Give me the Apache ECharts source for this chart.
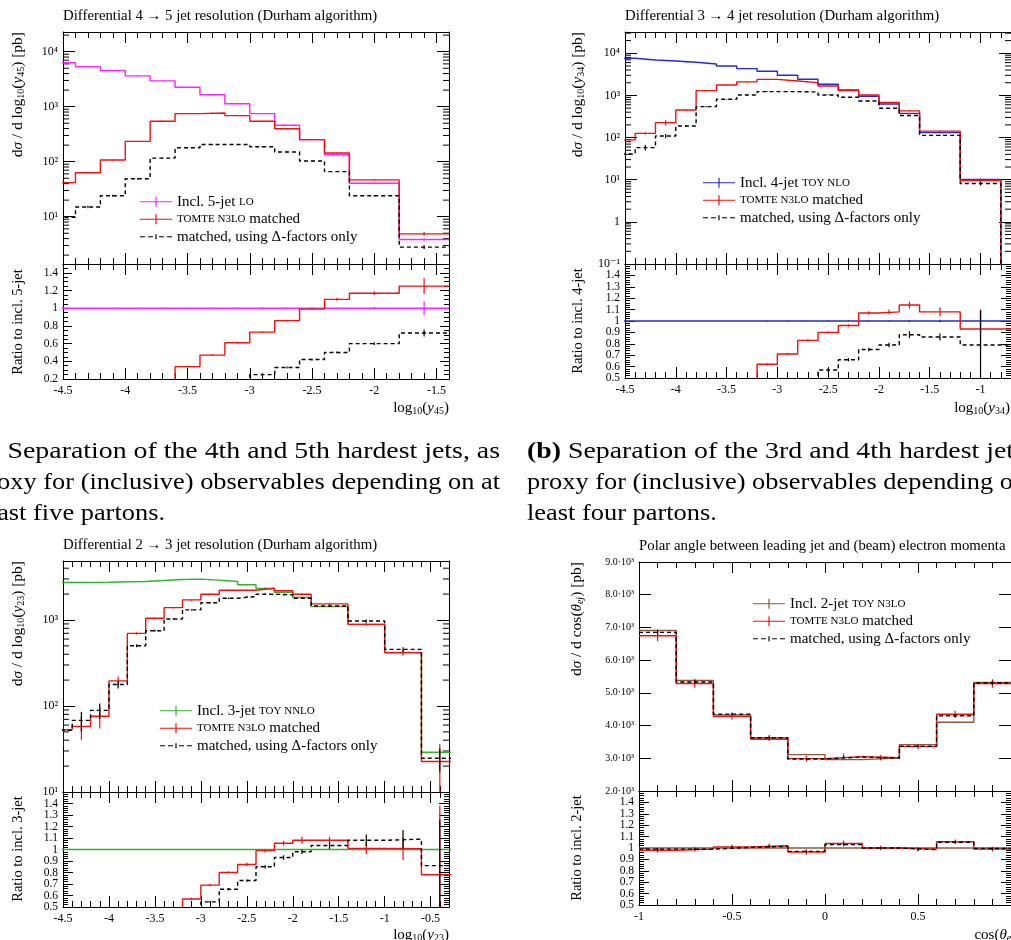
<!DOCTYPE html>
<html>
<head>
<meta charset="utf-8">
<title>Jet resolutions and polar angle, TOMTE matched vs inclusive</title>
<script src="https://cdn.jsdelivr.net/npm/echarts@6/dist/echarts.min.js"></script>
<style>
  html, body { margin: 0; padding: 0; background: #fff; }
  #main { width: 1011px; height: 940px; }
</style>
</head>
<body>
<div id="main"></div>
<script>
// ---------- (a) differential 4 -> 5 jet resolution ----------
const edgesA = [-4.6, -4.4, -4.2, -4.0, -3.8, -3.6, -3.4, -3.2, -3.0, -2.8, -2.6, -2.4, -2.2, -1.8, -1.4];
const inclA = [6300, 5350, 4540, 3630, 2950, 2260, 1650, 1130, 747, 460, 252, 134, 40.5, 3.84];
const tomteA = [41.7, 63, 107, 234, 543, 747, 769, 688, 543, 398, 252, 144, 46.7, 4.87];
const deltaA = [9.7, 15, 24, 49, 116, 179, 206, 206, 187, 150, 103, 66, 24, 2.8];
const errInclA = [0.02, 0.02, 0.02, 0.02, 0.02, 0.02, 0.02, 0.02, 0.02, 0.02, 0.02, 0.02, 0.03, 0.06];
const errTomteA = [0.03, 0.03, 0.03, 0.02, 0.02, 0.02, 0.02, 0.02, 0.02, 0.02, 0.02, 0.02, 0.03, 0.08];
const errDeltaA = [0.06, 0.05, 0.04, 0.03, 0.03, 0.02, 0.02, 0.02, 0.02, 0.02, 0.02, 0.02, 0.03, 0.08];
const rInclA = [1, 1, 1, 1, 1, 1, 1, 1, 1, 1, 1, 1, 1, 1];
const rTomteA = [0.007, 0.012, 0.024, 0.064, 0.18, 0.34, 0.47, 0.61, 0.73, 0.86, 0.99, 1.10, 1.17, 1.25];
const rDeltaA = [0.002, 0.003, 0.005, 0.013, 0.04, 0.08, 0.125, 0.18, 0.25, 0.33, 0.42, 0.50, 0.60, 0.72];
const rErrInclA = [0.005, 0.005, 0.005, 0.005, 0.005, 0.005, 0.005, 0.01, 0.01, 0.01, 0.01, 0.01, 0.015, 0.08];
const rErrTomteA = [0, 0, 0, 0, 0, 0.01, 0.01, 0.01, 0.01, 0.01, 0.01, 0.015, 0.02, 0.09];
const rErrDeltaA = [0, 0, 0, 0, 0, 0, 0, 0, 0.01, 0.01, 0.01, 0.01, 0.015, 0.04];

// ---------- (b) differential 3 -> 4 jet resolution ----------
const edgesB = [-4.6, -4.4, -4.2, -4.0, -3.8, -3.6, -3.4, -3.2, -3.0, -2.8, -2.6, -2.4, -2.2, -2.0, -1.8, -1.6, -1.2, -0.8, -0.4];
const inclB = [7610, 6950, 6580, 6110, 5580, 5000, 4330, 3740, 3010, 2420, 1840, 1350, 955, 627, 376, 131, 10.2, 0.01];
const tomteB = [88, 126, 226, 452, 1300, 1770, 2100, 2400, 2200, 2010, 1680, 1300, 1025, 677, 430, 142, 9.6, 0.009];
const deltaB = [40.8, 57.7, 109, 188, 542, 809, 1025, 1230, 1230, 1210, 1025, 903, 740, 495, 335, 113, 8.1, 0.008];
const errInclB = [0.01, 0.01, 0.01, 0.01, 0.01, 0.01, 0.01, 0.01, 0.01, 0.01, 0.01, 0.01, 0.01, 0.01, 0.02, 0.02, 0.05, 0];
const errTomteB = [0.05, 0.06, 0.14, 0.04, 0.03, 0.02, 0.02, 0.02, 0.02, 0.02, 0.02, 0.02, 0.02, 0.02, 0.03, 0.03, 0.09, 0];
const errDeltaB = [0.08, 0.15, 0.12, 0.05, 0.03, 0.02, 0.02, 0.02, 0.02, 0.02, 0.02, 0.02, 0.02, 0.02, 0.03, 0.03, 0.1, 0];
const rInclB = [1, 1, 1, 1, 1, 1, 1, 1, 1, 1, 1, 1, 1, 1, 1, 1, 1, 1];
const rTomteB = [0.012, 0.018, 0.034, 0.074, 0.23, 0.35, 0.48, 0.62, 0.71, 0.83, 0.90, 0.96, 1.07, 1.08, 1.14, 1.08, 0.93, 0.93];
const rDeltaB = [0.005, 0.008, 0.016, 0.03, 0.1, 0.16, 0.24, 0.3, 0.37, 0.45, 0.57, 0.66, 0.75, 0.79, 0.88, 0.86, 0.79, 0.79];
const rErrInclB = [0, 0, 0, 0, 0, 0, 0, 0.005, 0.005, 0.005, 0.005, 0.005, 0.005, 0.005, 0.01, 0.01, 0.1, 0];
const rErrTomteB = [0, 0, 0, 0, 0, 0, 0, 0.01, 0.01, 0.01, 0.01, 0.01, 0.015, 0.02, 0.03, 0.04, 0.17, 0];
const rErrDeltaB = [0, 0, 0, 0, 0, 0, 0, 0, 0, 0, 0.015, 0.015, 0.015, 0.02, 0.03, 0.03, 0.3, 0];

// ---------- (c) differential 2 -> 3 jet resolution ----------
const edgesC = [-4.6, -4.4, -4.2, -4.0, -3.8, -3.6, -3.4, -3.2, -3.0, -2.8, -2.6, -2.4, -2.2, -2.0, -1.8, -1.4, -1.0, -0.6, -0.2];
const inclC = [2730, 2730, 2750, 2780, 2800, 2875, 2955, 2985, 2905, 2800, 2565, 2325, 2105, 1825, 1430, 890, 420, 29];
const tomteC = [53, 58, 76, 196, 698, 1046, 1392, 1711, 1995, 2220, 2220, 2342, 2183, 1995, 1537, 890, 416, 22.6];
const deltaC = [52, 68, 89, 178, 502, 750, 1027, 1309, 1583, 1791, 1872, 1995, 1958, 1791, 1456, 973, 455, 24.7];
const errInclC = [0.01, 0.01, 0.01, 0.01, 0.01, 0.01, 0.01, 0.01, 0.01, 0.01, 0.01, 0.01, 0.01, 0.01, 0.01, 0.01, 0.02, 0.04];
const errTomteC = [0.35, 0.3, 0.28, 0.12, 0.03, 0.02, 0.02, 0.02, 0.02, 0.02, 0.02, 0.02, 0.02, 0.03, 0.03, 0.04, 0.08, 0.6];
const errDeltaC = [0.3, 0.25, 0.2, 0.1, 0.04, 0.03, 0.02, 0.02, 0.02, 0.02, 0.02, 0.02, 0.02, 0.02, 0.03, 0.04, 0.06, 0.3];
const rInclC = [1, 1, 1, 1, 1, 1, 1, 1, 1, 1, 1, 1, 1, 1, 1, 1, 1, 1];
const rTomteC = [0.019, 0.021, 0.027, 0.07, 0.24, 0.36, 0.47, 0.57, 0.69, 0.80, 0.87, 0.99, 1.055, 1.08, 1.08, 1.01, 1.006, 0.78];
const rDeltaC = [0.019, 0.024, 0.032, 0.064, 0.18, 0.26, 0.35, 0.44, 0.545, 0.655, 0.73, 0.85, 0.93, 0.98, 1.035, 1.08, 1.09, 0.86];
const rErrInclC = [0, 0, 0, 0, 0, 0, 0, 0, 0, 0, 0, 0, 0, 0, 0, 0, 0, 0];
const rErrTomteC = [0, 0, 0, 0, 0, 0, 0, 0.01, 0.01, 0.01, 0.015, 0.015, 0.02, 0.03, 0.03, 0.05, 0.1, 0.6];
const rErrDeltaC = [0, 0, 0, 0, 0, 0, 0, 0, 0.01, 0.01, 0.01, 0.015, 0.02, 0.02, 0.03, 0.05, 0.08, 0.4];

// ---------- (d) polar angle between leading jet and electron ----------
const edgesD = [-1, -0.8, -0.6, -0.4, -0.2, 0, 0.2, 0.4, 0.6, 0.8, 1];
const inclD = [6908, 5378, 4327, 3582, 3112, 2959, 3010, 3418, 4102, 5316];
const tomteD = [6745, 5286, 4286, 3622, 2990, 3051, 3020, 3357, 4347, 5286];
const deltaD = [6850, 5330, 4350, 3630, 2980, 3040, 3010, 3370, 4300, 5300];
const errInclD = [0.005, 0.005, 0.005, 0.005, 0.005, 0.005, 0.005, 0.005, 0.005, 0.005];
const errTomteD = [0.025, 0.025, 0.025, 0.025, 0.03, 0.03, 0.03, 0.025, 0.025, 0.025];
const errDeltaD = [0.01, 0.01, 0.01, 0.01, 0.01, 0.01, 0.01, 0.01, 0.01, 0.01];
const rInclD = [1, 1, 1, 1, 1, 1, 1, 1, 1, 1];
const rTomteD = [0.98, 0.99, 1.01, 1.02, 0.965, 1.04, 1.0, 0.99, 1.055, 0.99];
const rDeltaD = [0.99, 0.99, 1.005, 1.015, 0.97, 1.03, 1.0, 0.985, 1.05, 0.995];
const rErrInclD = [0, 0, 0, 0, 0, 0, 0, 0, 0, 0];
const rErrTomteD = [0.02, 0.02, 0.02, 0.02, 0.025, 0.025, 0.02, 0.02, 0.02, 0.02];
const rErrDeltaD = [0.01, 0.01, 0.01, 0.01, 0.01, 0.01, 0.01, 0.01, 0.01, 0.01];

const LABELS = {
  A1: 'Incl. 5-jet {sc|LO}', A2: '{sc|TOMTE N3LO} matched', A3: 'matched, using Δ-factors only',
  B1: 'Incl. 4-jet {sc|TOY NLO}', B2: '{sc|TOMTE N3LO} matched', B3: 'matched, using Δ-factors only',
  C1: 'Incl. 3-jet {sc|TOY NNLO}', C2: '{sc|TOMTE N3LO} matched', C3: 'matched, using Δ-factors only',
  D1: 'Incl. 2-jet {sc|TOY N3LO}', D2: '{sc|TOMTE N3LO} matched', D3: 'matched, using Δ-factors only'
};

const FONT = '"Liberation Serif", "DejaVu Serif", serif';
const RED = '#ee1111';
const BLACK = '#000000';
const MAGENTA = '#ff22ff';
const BLUE = '#2a2ac6';
const GREEN = '#33b033';
const BROWN = '#8a5a3c';

const grids = [];
const xAxes = [];
const yAxes = [];
const extraY = [];   // label-only axes, appended after the framed ones
const series = [];
const legends = [];
const graphics = [];

const SUP = { '-': '⁻', '0': '⁰', '1': '¹', '2': '²', '3': '³', '4': '⁴', '5': '⁵', '6': '⁶', '7': '⁷', '8': '⁸', '9': '⁹' };
function powLabel(v) {
  const l = Math.log10(v);
  const e = Math.round(l);
  if (Math.abs(l - e) > 1e-6) return '';
  if (e === 0) return '1';
  return '10' + String(e).split('').map(c => SUP[c]).join('');
}

function stepData(edges, vals) {
  const d = vals.map((v, i) => [edges[i], v]);
  d.push([edges[edges.length - 1], vals[vals.length - 1]]);
  return d;
}

function addGrid(rect, xs, ys, isRatio) {
  const g = grids.length;
  grids.push({ left: rect[0], top: rect[1], width: rect[2], height: rect[3] });
  const line = { show: true, onZero: false, lineStyle: { color: '#000', width: 1 } };
  ['bottom', 'top'].forEach((pos, k) => {
    xAxes.push({
      gridIndex: g, type: 'value', position: pos,
      min: xs.min, max: xs.max, interval: xs.interval,
      axisLine: line,
      axisTick: { inside: true, length: 11, lineStyle: { color: '#000' } },
      minorTick: { show: true, splitNumber: 5, length: 6, lineStyle: { color: '#000' } },
      splitLine: { show: false },
      axisLabel: { show: isRatio && k === 0, showMaxLabel: false, color: '#000', fontFamily: FONT, fontSize: 12, margin: 6 }
    });
  });
  const labelStyle = { color: '#000', fontFamily: FONT, fontSize: ys.fontSize || 12, margin: 5 };
  ['left', 'right'].forEach((pos, k) => {
    const ax = {
      gridIndex: g, type: ys.type, position: pos,
      min: ys.min, max: ys.max,
      axisLine: line,
      axisTick: { inside: true, length: ys.tick || 11, lineStyle: { color: '#000' } },
      minorTick: { show: !!ys.minor, splitNumber: ys.minor || 5, length: 5, lineStyle: { color: '#000' } },
      splitLine: { show: false },
      axisLabel: Object.assign({ show: k === 0, hideOverlap: false, showMaxLabel: !isRatio,
                                 showMinLabel: !ys.ownMin, formatter: ys.fmt }, labelStyle)
    };
    if (ys.type === 'log') ax.logBase = 10; else ax.interval = ys.interval;
    yAxes.push(ax);
  });
  if (ys.ownMin) {
    // the bottom label sits too close to its neighbour for the automatic check, give it its own axis
    extraY.push({
      gridIndex: g, type: 'value', position: 'left', min: ys.min, max: ys.max, interval: ys.interval,
      axisLine: { show: false }, axisTick: { show: false }, splitLine: { show: false },
      axisLabel: Object.assign({ showMinLabel: true, showMaxLabel: false,
                                 formatter: v => (Math.abs(v - ys.min) < 1e-9 ? String(ys.min) : '') }, labelStyle)
    });
  }
  return g;
}

function addHist(g, name, edges, vals, errs, relative, color, dashed) {
  series.push({
    name: name, type: 'line', xAxisIndex: 2 * g, yAxisIndex: 2 * g,
    step: 'end', symbol: 'none', clip: true, silent: true,
    data: stepData(edges, vals),
    itemStyle: { color: color },
    lineStyle: { color: color, width: 1.4, type: dashed ? [4, 3] : 'solid' },
    z: dashed ? 5 : 3
  });
  const bars = [];
  vals.forEach((v, i) => {
    if (!errs[i]) return;
    const d = relative ? v * errs[i] : errs[i];
    bars.push([(edges[i] + edges[i + 1]) / 2, v - d, v + d]);
  });
  series.push({
    type: 'custom', xAxisIndex: 2 * g, yAxisIndex: 2 * g, clip: true, silent: true,
    encode: { x: 0, y: [1, 2] }, data: bars, z: 4,
    renderItem: function (params, api) {
      const p1 = api.coord([api.value(0), api.value(1)]);
      const p2 = api.coord([api.value(0), api.value(2)]);
      return { type: 'line', shape: { x1: p1[0], y1: p1[1], x2: p2[0], y2: p2[1] },
               style: { stroke: color, lineWidth: 1.2 } };
    }
  });
}

// minor decade ticks (2..9 x 10^k) on both sides of a log frame
function addLogMinor(g, xmin, lo, hi) {
  const pts = [];
  for (let k = Math.floor(Math.log10(lo)); k <= Math.ceil(Math.log10(hi)); k++) {
    for (let m = 2; m <= 9; m++) {
      const v = m * Math.pow(10, k);
      if (v > lo && v < hi) pts.push([xmin, v]);
    }
  }
  series.push({
    type: 'custom', xAxisIndex: 2 * g, yAxisIndex: 2 * g, silent: true,
    encode: { x: 0, y: 1 }, data: pts,
    renderItem: function (params, api) {
      const cs = params.coordSys;
      const y = api.coord([api.value(0), api.value(1)])[1];
      const st = { stroke: '#000', lineWidth: 1 };
      return { type: 'group', children: [
        { type: 'line', shape: { x1: cs.x, y1: y, x2: cs.x + 6, y2: y }, style: st },
        { type: 'line', shape: { x1: cs.x + cs.width - 6, y1: y, x2: cs.x + cs.width, y2: y }, style: st }
      ] };
    }
  });
}

const ICON_SOLID = 'path://M0,4.4h32v1.2h-32zM15.4,0h1.2v10h-1.2z';
const ICON_DASH = 'path://M0,4.4h5v1.2h-5zM8,4.4h5v1.2h-5zM15.4,2.5h1.2v5h-1.2zM19,4.4h5v1.2h-5zM27,4.4h5v1.2h-5z';
function addLegend(left, top, names) {
  legends.push({
    left: left, top: top, orient: 'vertical', itemWidth: 32, itemHeight: 10, itemGap: 0,
    selectedMode: false, padding: 0,
    data: names.map((n, i) => ({ name: n, icon: i === 2 ? ICON_DASH : ICON_SOLID })),
    formatter: n => LABELS[n],
    itemStyle: { borderWidth: 0 },
    textStyle: { fontFamily: FONT, fontSize: 15, color: '#000', lineHeight: 17.5,
                 rich: { sc: { fontFamily: FONT, fontSize: 11, color: '#000', lineHeight: 17.5 } } }
  });
}

const RICH = {
  i: { fontFamily: FONT, fontStyle: 'italic', fontSize: 15, lineHeight: 17 },
  s: { fontFamily: FONT, fontSize: 10, lineHeight: 12, verticalAlign: 'bottom' },
  si: { fontFamily: FONT, fontSize: 10, fontStyle: 'italic', lineHeight: 12, verticalAlign: 'bottom' },
  b: { fontFamily: FONT, fontWeight: 'bold', fontSize: 24 }
};
function addText(x, y, str, size, align, vAlign, rot, scaleX) {
  graphics.push({
    type: 'text', x: x, y: y, rotation: rot || 0, scaleX: scaleX || 1, silent: true,
    style: { text: str, fontFamily: FONT, fontSize: size, fill: '#000', align: align,
             verticalAlign: vAlign, lineHeight: 17, rich: RICH }
  });
}

const ratioY = { type: 'value', min: 0.5, max: 1.5, interval: 0.1, minor: 5, tick: 10, fontSize: 11.5, ownMin: true };

// ----- panel (a)
let g = addGrid([63, 32, 386, 232], { min: -4.5, max: -1.4, interval: 0.5 },
  { type: 'log', min: 1.38, max: 22800, fmt: powLabel, tick: 12 }, false);
addLogMinor(g, -4.5, 1.38, 22800);
addHist(g, 'A1', edgesA, inclA, errInclA, true, MAGENTA, false);
addHist(g, 'A2', edgesA, tomteA, errTomteA, true, RED, false);
addHist(g, 'A3', edgesA, deltaA, errDeltaA, true, BLACK, true);
g = addGrid([63, 264, 386, 115], { min: -4.5, max: -1.4, interval: 0.5 },
  { type: 'value', min: 0.2, max: 1.5, interval: 0.2, minor: 4, tick: 9, fontSize: 11.5 }, true);
addHist(g, 'A1r', edgesA, rInclA, rErrInclA, false, MAGENTA, false);
addHist(g, 'A2r', edgesA, rTomteA, rErrTomteA, false, RED, false);
addHist(g, 'A3r', edgesA, rDeltaA, rErrDeltaA, false, BLACK, true);
addLegend(140, 193, ['A1', 'A2', 'A3']);

// ----- panel (b)
g = addGrid([625, 32, 386, 232], { min: -4.5, max: -0.7, interval: 0.5 },
  { type: 'log', min: 0.1, max: 32000, fmt: powLabel, tick: 12 }, false);
addLogMinor(g, -4.5, 0.1, 32000);
addHist(g, 'B1', edgesB, inclB, errInclB, true, BLUE, false);
addHist(g, 'B2', edgesB, tomteB, errTomteB, true, RED, false);
addHist(g, 'B3', edgesB, deltaB, errDeltaB, true, BLACK, true);
g = addGrid([625, 264, 386, 114], { min: -4.5, max: -0.7, interval: 0.5 }, ratioY, true);
addHist(g, 'B1r', edgesB, rInclB, rErrInclB, false, BLUE, false);
addHist(g, 'B2r', edgesB, rTomteB, rErrTomteB, false, RED, false);
addHist(g, 'B3r', edgesB, rDeltaB, rErrDeltaB, false, BLACK, true);
addLegend(703, 174, ['B1', 'B2', 'B3']);

// ----- panel (c)
g = addGrid([63, 561, 386, 231], { min: -4.5, max: -0.3, interval: 0.5 },
  { type: 'log', min: 10, max: 4850, fmt: powLabel, tick: 12 }, false);
addLogMinor(g, -4.5, 10, 4850);
addHist(g, 'C1', edgesC, inclC, errInclC, true, GREEN, false);
addHist(g, 'C2', edgesC, tomteC, errTomteC, true, RED, false);
addHist(g, 'C3', edgesC, deltaC, errDeltaC, true, BLACK, true);
g = addGrid([63, 792, 386, 115], { min: -4.5, max: -0.3, interval: 0.5 }, ratioY, true);
addHist(g, 'C1r', edgesC, rInclC, rErrInclC, false, GREEN, false);
addHist(g, 'C2r', edgesC, rTomteC, rErrTomteC, false, RED, false);
addHist(g, 'C3r', edgesC, rDeltaC, rErrDeltaC, false, BLACK, true);
addLegend(160, 702, ['C1', 'C2', 'C3']);

// ----- panel (d)
g = addGrid([639, 562, 380, 229], { min: -1, max: 1, interval: 0.5 },
  { type: 'value', min: 2000, max: 9000, interval: 1000, tick: 12, fontSize: 10,
    fmt: v => (v / 1000).toFixed(1) + '·10³' }, false);
addHist(g, 'D1', edgesD, inclD, errInclD, true, BROWN, false);
addHist(g, 'D2', edgesD, tomteD, errTomteD, true, RED, false);
addHist(g, 'D3', edgesD, deltaD, errDeltaD, true, BLACK, true);
g = addGrid([639, 791, 380, 114], { min: -1, max: 1, interval: 0.5 }, ratioY, true);
addHist(g, 'D1r', edgesD, rInclD, rErrInclD, false, BROWN, false);
addHist(g, 'D2r', edgesD, rTomteD, rErrTomteD, false, RED, false);
addHist(g, 'D3r', edgesD, rDeltaD, rErrDeltaD, false, BLACK, true);
addLegend(753, 595, ['D1', 'D2', 'D3']);

// ----- titles and axis names
addText(63, 16, 'Differential 4 → 5 jet resolution (Durham algorithm)', 14.8, 'left', 'middle');
addText(625, 16, 'Differential 3 → 4 jet resolution (Durham algorithm)', 14.8, 'left', 'middle');
addText(63, 545, 'Differential 2 → 3 jet resolution (Durham algorithm)', 14.8, 'left', 'middle');
addText(639, 546, 'Polar angle between leading jet and (beam) electron momenta', 14.8, 'left', 'middle');

const R = Math.PI / 2;
addText(18, 32, 'd{i|σ} / d log{s|10}({i|y}{s|45}) [pb]', 15.5, 'right', 'middle', R);
addText(578, 32, 'd{i|σ} / d log{s|10}({i|y}{s|34}) [pb]', 15.5, 'right', 'middle', R);
addText(18, 561, 'd{i|σ} / d log{s|10}({i|y}{s|23}) [pb]', 15.5, 'right', 'middle', R);
addText(577, 562, 'd{i|σ} / d cos({i|θ}{si|ej}) [pb]', 15.5, 'right', 'middle', R);
addText(18, 322, 'Ratio to incl. 5-jet', 14.5, 'center', 'middle', R);
addText(578, 321, 'Ratio to incl. 4-jet', 14.5, 'center', 'middle', R);
addText(18, 849, 'Ratio to incl. 3-jet', 14.5, 'center', 'middle', R);
addText(577, 848, 'Ratio to incl. 2-jet', 14.5, 'center', 'middle', R);

addText(449, 408, 'log{s|10}({i|y}{s|45})', 15, 'right', 'middle');
addText(1010, 408, 'log{s|10}({i|y}{s|34})', 15, 'right', 'middle');
addText(449, 935, 'log{s|10}({i|y}{s|23})', 15, 'right', 'middle');
addText(1019, 935, 'cos({i|θ}{si|ej})', 15, 'right', 'middle');

// ----- sub-figure captions (justified lines: first lines stretched a bit more)
const CAP = 24, SX1 = 1.16, SX2 = 1.10;
const capL2 = 'proxy for (inclusive) observables depending on at';
const ctx = document.createElement('canvas').getContext('2d');
ctx.font = CAP + 'px "Liberation Serif"';
const colLeft = 500 - ctx.measureText(capL2).width * SX2;
addText(500, 452, '{b|(a)} Separation of the 4th and 5th hardest jets, as', CAP, 'right', 'middle', 0, SX1);
addText(500, 483, capL2, CAP, 'right', 'middle', 0, SX2);
addText(colLeft + 3, 514, 'least five partons.', CAP, 'left', 'middle', 0, SX2);
addText(527, 452, '{b|(b)} Separation of the 3rd and 4th hardest jets, as', CAP, 'left', 'middle', 0, SX1);
addText(527, 483, 'proxy for (inclusive) observables depending on at', CAP, 'left', 'middle', 0, SX2);
addText(527, 514, 'least four partons.', CAP, 'left', 'middle', 0, SX2);

const chart = echarts.init(document.getElementById('main'));
chart.setOption({
  animation: false,
  backgroundColor: '#fff',
  grid: grids,
  xAxis: xAxes,
  yAxis: yAxes.concat(extraY),
  legend: legends,
  series: series,
  graphic: graphics
});
</script>
</body>
</html>
